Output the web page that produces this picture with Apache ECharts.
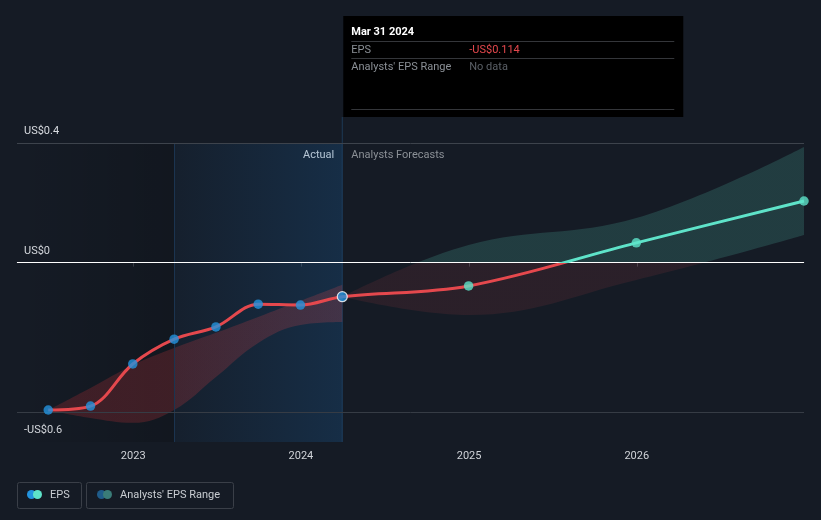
<!DOCTYPE html>
<html>
<head>
<meta charset="utf-8">
<script src="https://cdn.jsdelivr.net/npm/echarts@6/dist/echarts.min.js"></script>
<style>
html,body{margin:0;padding:0;background:#151b25;}
#chart{width:821px;height:520px;}
</style>
</head>
<body>
<div id="chart"></div>
<script>
// ---- data ----
const actualDates = ['2022-06-30','2022-09-30','2022-12-31','2023-03-31','2023-06-30','2023-09-30','2023-12-31','2024-03-31'];
const actualEps   = [-0.493, -0.480, -0.339, -0.256, -0.215, -0.139, -0.142, -0.114];
const pastLow     = [-0.493, -0.520, -0.536, -0.493, -0.383, -0.269, -0.209, -0.199];
const pastHigh    = [-0.493, -0.419, -0.343, -0.286, -0.235, -0.182, -0.128, -0.074];
const forecastDates = ['2024-03-31','2024-12-31','2025-12-31','2026-12-31'];
const forecastEps   = [-0.114, -0.078, 0.066, 0.206];
const forecastLow   = [-0.114, -0.175, -0.058, 0.092];
const forecastHigh  = [-0.114, 0.059, 0.149, 0.387];
const yTickLabels = {'0.4':'US$0.4', '0':'US$0', '-0.6':'-US$0.6'};
const refLineValue = -0.5;
const xMin = '2022-04-23', xMax = '2026-12-31';
const shadeStart = '2023-03-31', nowDate = '2024-03-31';
const tooltipTitle = 'Mar 31 2024';

const RED = '#e5484d', TEAL = '#5ee3c9', BLUE = '#2394df';
const FONT = 'Roboto, "Noto Sans", sans-serif';

const pair = (ds, vs) => ds.map((d, i) => [d, vs[i]]);
const diff = (ds, hi, lo) => ds.map((d, i) => [d, +(hi[i] - lo[i]).toFixed(4)]);

const epsLine = pair(actualDates, actualEps).concat(pair(forecastDates.slice(1), forecastEps.slice(1)));

const chart = echarts.init(document.getElementById('chart'), null, {renderer: 'canvas'});

function split(px, top, bottom) {
  if (!px) return bottom;
  return {
    type: 'linear', x: 0, y: px.zeroY - 0.5, x2: 0, y2: px.zeroY + 0.5, global: true,
    colorStops: [
      {offset: 0, color: top}, {offset: 0.5, color: top},
      {offset: 0.5, color: bottom}, {offset: 1, color: bottom}
    ]
  };
}

function buildOption(px) {
  const graphic = [];
  if (px) {
    const t = (x, y, text, fill, extra) => ({type: 'text', x, y, silent: true,
      style: Object.assign({text, fill, font: '11px ' + FONT, verticalAlign: 'middle'}, extra || {})});
    const hl = (y, x1, x2) => ({type: 'line', silent: true, shape: {x1, y1: y, x2, y2: y},
      style: {stroke: '#34363a', lineWidth: 1}});
    const last = actualEps[actualEps.length - 1];
    graphic.push(
      {type: 'line', silent: true, z: 1, shape: {x1: px.nowX, y1: 117, x2: px.nowX, y2: px.bottomY},
        style: {stroke: '#1d3a57', lineWidth: 1}},
      {type: 'rect', silent: true, shape: {x: px.nowX + 1, y: 16, width: 340, height: 101}, style: {fill: '#000'}},
      t(px.nowX + 9, 32, tooltipTitle, '#ffffff', {font: 'bold 11px ' + FONT}),
      hl(41.5, px.nowX + 9, px.nowX + 332),
      t(px.nowX + 9, 50, 'EPS', '#8b9096'),
      t(px.nowX + 127, 50, (last < 0 ? '-' : '') + 'US$' + Math.abs(last).toFixed(3), RED),
      hl(58.5, px.nowX + 9, px.nowX + 332),
      t(px.nowX + 9, 67, "Analysts' EPS Range", '#8b9096'),
      t(px.nowX + 127, 67, 'No data', '#5b6067'),
      hl(109.5, px.nowX + 9, px.nowX + 332),
      t(px.nowX - 8, 155, 'Actual', '#f0f0f0', {align: 'right'}),
      t(px.nowX + 9, 155, 'Analysts Forecasts', '#8b9096'),
      // legend
      {type: 'rect', silent: true, shape: {x: 17.5, y: 482.5, width: 64, height: 26, r: 2},
        style: {fill: 'none', stroke: '#3a3f48', lineWidth: 1}},
      {type: 'circle', silent: true, shape: {cx: 31.5, cy: 494.5, r: 4.5}, style: {fill: BLUE}},
      {type: 'circle', silent: true, shape: {cx: 37.5, cy: 494.5, r: 4.5}, style: {fill: TEAL}},
      t(50, 495, 'EPS', '#c9cdd2'),
      {type: 'rect', silent: true, shape: {x: 86.5, y: 482.5, width: 147, height: 26, r: 2},
        style: {fill: 'none', stroke: '#3a3f48', lineWidth: 1}},
      {type: 'circle', silent: true, shape: {cx: 101.5, cy: 494.5, r: 4.5}, style: {fill: '#1f5c8a'}},
      {type: 'circle', silent: true, shape: {cx: 107.5, cy: 494.5, r: 4.5}, style: {fill: '#3a7c78'}},
      t(120, 495, "Analysts' EPS Range", '#c9cdd2')
    );
  }

  return {
    backgroundColor: '#151b25',
    animation: false,
    textStyle: {fontFamily: FONT},
    grid: {left: 17, right: 17, top: 143, bottom: 78, containLabel: false},
    xAxis: {
      type: 'time', min: xMin, max: xMax,
      minInterval: 365 * 24 * 3600 * 1000, maxInterval: 366 * 24 * 3600 * 1000,
      splitLine: {show: false},
      axisLine: {lineStyle: {color: '#3d434c', width: 1}},
      axisTick: {show: true, length: 4, lineStyle: {color: '#3d434c'}},
      axisLabel: {color: '#d0d3d8', fontSize: 11, margin: 9, formatter: '{yyyy}', fontFamily: FONT}
    },
    yAxis: {
      type: 'value', min: -0.6, max: 0.4, interval: 0.2,
      splitLine: {show: false}, axisLine: {show: false}, axisTick: {show: false},
      axisLabel: {
        inside: true, margin: 7, color: '#d8dbe0', fontSize: 11, fontFamily: FONT,
        verticalAlign: 'bottom', padding: [0, 0, 6, 0], showMinLabel: true, showMaxLabel: true,
        formatter: v => {
          const k = String(Math.round(v * 10) / 10);
          return yTickLabels[k] || '';
        }
      }
    },
    series: [
      { // 0: historical band lower (invisible) + background shading
        type: 'line', name: 'pastLow', stack: 'past', stackStrategy: 'all', z: 1,
        data: pair(actualDates, pastLow), smooth: 0.4, symbol: 'none',
        lineStyle: {opacity: 0},
        markArea: {
          silent: true,
          data: [
            [{xAxis: xMin, itemStyle: {color: new echarts.graphic.LinearGradient(0, 0, 1, 0, [
                {offset: 0, color: 'rgba(0,0,0,0)'}, {offset: 1, color: 'rgba(0,0,0,0.16)'}])}},
             {xAxis: shadeStart}],
            [{xAxis: shadeStart, itemStyle: {color: new echarts.graphic.LinearGradient(0, 0, 1, 0, [
                {offset: 0, color: 'rgba(25,85,140,0.08)'}, {offset: 1, color: 'rgba(25,85,140,0.32)'}])}},
             {xAxis: nowDate}]
          ]
        },
        markLine: {
          silent: true, symbol: 'none', label: {show: false},
          lineStyle: {color: '#1b3450', width: 1, type: 'solid'},
          data: [{xAxis: shadeStart}]
        }
      },
      { // 1: historical band
        type: 'line', name: 'pastRange', stack: 'past', stackStrategy: 'all', z: 2,
        data: diff(actualDates, pastHigh, pastLow), smooth: 0.4, symbol: 'none',
        lineStyle: {opacity: 0},
        areaStyle: {color: new echarts.graphic.LinearGradient(0, 0, 1, 0, [
          {offset: 0, color: 'rgba(200,45,50,0.34)'}, {offset: 1, color: 'rgba(229,72,77,0.3)'}])}
      },
      { // 2: forecast band lower + horizontal reference lines
        type: 'line', name: 'fcLow', stack: 'fc', stackStrategy: 'all', z: 3,
        data: pair(forecastDates, forecastLow), smooth: 0.4, symbol: 'none',
        lineStyle: {opacity: 0},
        markLine: {
          silent: true, symbol: 'none', label: {show: false},
          data: [
            {yAxis: 0.4, lineStyle: {color: '#3d434c', width: 1, type: 'solid'}},
            {yAxis: refLineValue, lineStyle: {color: '#363c45', width: 1, type: 'solid'}},
            {yAxis: 0, lineStyle: {color: '#ffffff', width: 1, type: 'solid'}}
          ]
        }
      },
      { // 3: forecast band
        type: 'line', name: 'fcRange', stack: 'fc', stackStrategy: 'all', z: 2,
        data: diff(forecastDates, forecastHigh, forecastLow), smooth: 0.4, symbol: 'none',
        lineStyle: {opacity: 0},
        areaStyle: {color: split(px, 'rgba(95,227,201,0.24)', 'rgba(229,72,77,0.15)')}
      },
      { // 4: EPS line
        type: 'line', name: 'EPS', z: 5, data: epsLine, smooth: 0.35,
        symbol: 'none', lineStyle: {width: 3, color: split(px, TEAL, RED)}
      },
      { // 5: actual points
        type: 'scatter', z: 6, symbolSize: 9.5,
        data: pair(actualDates.slice(0, -1), actualEps.slice(0, -1)),
        itemStyle: {color: BLUE}
      },
      { // 6: current point
        type: 'scatter', z: 7, symbolSize: 10,
        data: pair(actualDates.slice(-1), actualEps.slice(-1)),
        itemStyle: {color: BLUE, borderColor: '#ffffff', borderWidth: 1.2}
      },
      { // 7: forecast points
        type: 'scatter', z: 6, symbolSize: 9.5,
        data: pair(forecastDates.slice(1), forecastEps.slice(1)),
        itemStyle: {color: TEAL}
      }
    ],
    graphic: graphic
  };
}

chart.setOption(buildOption(null));
const px = {
  zeroY: chart.convertToPixel({yAxisIndex: 0}, 0),
  bottomY: chart.convertToPixel({yAxisIndex: 0}, -0.6),
  nowX: chart.convertToPixel({xAxisIndex: 0}, nowDate)
};
chart.setOption(buildOption(px), true);
</script>
</body>
</html>
